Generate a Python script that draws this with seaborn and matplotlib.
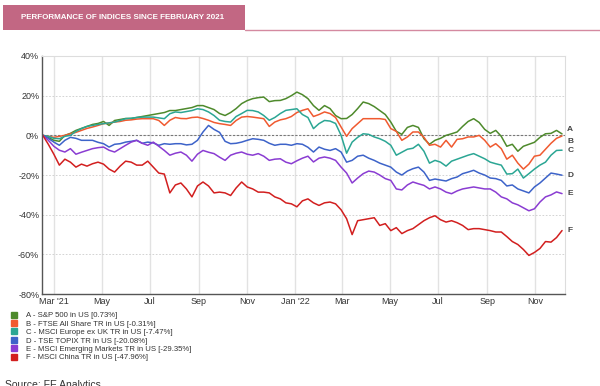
import pandas as pd
import matplotlib.pyplot as plt
import matplotlib.dates as mdates
from matplotlib.lines import Line2D
from matplotlib.patches import Rectangle
import seaborn as sns

# weekly readings, % change since mid-February 2021
dates = pd.date_range("2021-02-15", periods=95, freq="7D")

sp500 = [0, -1, -2.5, -3, 0, 1, 2.5, 3.5, 4.5, 5.5, 6, 7, 5, 7.5, 8, 8.5, 8.5, 9, 9.5, 10,
         10.5, 11, 11.5, 12.5, 12.5, 13, 13.5, 14, 15, 15, 14, 13, 11, 10, 11.5, 13.5, 16, 17.5, 18.5, 19,
         19.3, 17, 17.5, 17.6, 18.5, 20, 21.8, 20.5, 18.5, 15, 12.6, 15, 13.5, 10, 8.4, 8.5, 10.5, 13.5, 16.8, 16,
         14.5, 12.5, 10.5, 6.7, 2, 0.5, 4, 5, 4, -1.7, -4.5, -2.5, -1.5, 0, 0.8, 1.7, 4.5, 7, 8.4, 6.5,
         3, 1, 2.5, -0.5, -5.5, -4.5, -8, -5.5, -4.5, -3.5, -1, 0.8, 1, 2.5, 0.73]
ftse = [0, -0.5, -1, -0.5, 0, 0.8, 1.5, 2.5, 3.5, 4.2, 5, 5.9, 6.2, 6.7, 7, 7.6, 7.8, 8.2, 8.4, 8.4,
        8.4, 7.5, 5, 7.6, 9, 8.5, 8.4, 9, 9.2, 8.5, 7.6, 6.5, 5.9, 5.5, 5, 7.5, 9.2, 9.5, 9.2, 8.8,
        8.4, 4.5, 6.7, 7.8, 8.4, 9.5, 11.5, 12.6, 13.4, 9.5, 10.5, 11.8, 11, 9, 4.2, -0.5, 3.4, 5.9, 8.4, 8.4,
        8.4, 8.4, 8, 3.4, 2, -2.5, -0.8, 1.7, 1.7, -1, -5, -4.5, -5.9, -2.5, -5.9, -2, -1.7, -0.8, -0.8, 0,
        -2.5, -5.9, -4.2, -6.7, -12, -10, -14, -17, -14.5, -10.5, -10, -7, -4, -1.5, -0.31]
eu_ex_uk = [0, -0.5, -1.5, -1.7, -0.5, 0, 2, 3.4, 4.5, 5, 5.5, 5.9, 6.3, 6.7, 7.5, 8.4, 8.6, 9, 9.2, 9.2,
            9.2, 8.8, 8.4, 10.9, 11.8, 11.5, 12, 12.5, 13.4, 13, 11.8, 10, 7.6, 7, 6.7, 9.5, 11, 12.6, 12.5, 11.8,
            10, 7.6, 9, 11, 12.6, 13, 13.4, 10.5, 9, 3.4, 5.9, 7.5, 7.2, 6, 0, -9, -3.4, -1, 0.8, 0.5,
            -0.8, -1.7, -3, -5, -10, -8.5, -7, -6.5, -4.5, -8, -14, -12.6, -13.5, -15.5, -13, -12, -11, -10, -9.2, -10.5,
            -11.8, -13.5, -14.3, -15, -19.5, -19.3, -17, -21.5, -19.3, -17, -15, -13.5, -10, -7.6, -7.47]
topix = [0, -1.5, -3.4, -5, -2.5, -1, -1.5, -2.5, -2.5, -2.5, -3.5, -4.2, -5.9, -4.5, -4.2, -3.4, -3, -2.5, -4, -3.4,
         -3.8, -5, -4.2, -4.5, -4.2, -4.2, -4.8, -4.5, -2.5, 1.7, 5, 3, 1.5, -3, -4.2, -4, -3.4, -2.5, -1.7, -2,
         -2.5, -4, -5, -4.5, -4.5, -5, -4.2, -4.5, -6, -8.4, -5.9, -7, -7.6, -6.7, -8.4, -13.5, -12.6, -10.5, -10, -11.5,
         -12.6, -14, -15, -16, -18.5, -20, -18, -16.8, -16, -18.5, -22.7, -22, -22.5, -23, -21.8, -21, -19.3, -18.5, -17.6, -19,
         -20, -21.5, -21.8, -22.7, -25.5, -25, -27, -28, -29, -26, -24, -21.5, -19, -19.5, -20.08]
em = [0, -2.5, -5.5, -7.5, -8.4, -6.7, -9.5, -8.5, -7.6, -6.7, -6.2, -5.9, -7.5, -8.4, -6.7, -5, -3.4, -2.5, -4, -5,
      -3.4, -5.5, -7.6, -10, -9, -8.4, -10, -13, -9.5, -7.6, -8.5, -9.2, -11, -12.6, -10, -9, -8.4, -9.5, -10, -9.2,
      -10.5, -12.6, -12, -11.8, -13.5, -14.3, -12.8, -11.5, -10.5, -13.4, -11.5, -10.9, -11.5, -12.6, -16, -19, -24, -21.5, -19.3, -18,
      -18.5, -20, -21.8, -22.7, -27, -27.5, -25, -23.5, -24.4, -25.2, -27, -26, -27, -28.6, -29.4, -28, -27, -26.5, -26, -26.5,
      -27, -27, -28.6, -31, -32, -34, -35, -36.5, -38, -37, -33.6, -31, -30, -28.5, -29.35]
china = [0, -4.5, -9.5, -15, -12, -13.5, -16, -14.5, -15.5, -14.3, -13.5, -14.5, -17, -18.5, -15.5, -13, -13.5, -15, -15, -13,
         -16, -19, -19.5, -29, -25, -24, -27, -31, -25.5, -23.5, -25.5, -29, -28.6, -29, -30.3, -26.5, -23.5, -26, -27, -28.6,
         -28.6, -29, -31, -32, -34, -34.5, -36, -33, -32, -34, -35.3, -34, -33.6, -34.5, -37.5, -42, -50, -43, -42.5, -42,
         -41.5, -45.4, -44.5, -48, -46.5, -49.5, -48, -47, -45, -43, -41.5, -40.5, -42.5, -43.7, -43, -44, -45.4, -47.5, -47, -47,
         -47.5, -48, -48.7, -48.7, -51, -53.5, -55, -57.5, -60.5, -59, -57, -53.5, -53.8, -51.5, -47.96]

letters = ["A", "B", "C", "D", "E", "F"]
names = ["S&P 500 in US [0.73%]", "FTSE All Share TR in US [-0.31%]", "MSCI Europe ex UK TR in US [-7.47%]",
         "TSE TOPIX TR in US [-20.08%]", "MSCI Emerging Markets TR in US [-29.35%]", "MSCI China TR in US [-47.96%]"]
colors = ["#4e8a2c", "#f05a30", "#2ba694", "#3d63c9", "#8a3cd2", "#d21f1f"]
label_nudge = [2.2, -2.8, 0, 0, 0, 0]

series = [sp500, ftse, eu_ex_uk, topix, em, china]
df = pd.concat([pd.DataFrame({"date": dates, "pct": s, "index": l}) for s, l in zip(series, letters)])

sns.set_style("white")
plt.rcParams["font.family"] = ["Liberation Sans", "DejaVu Sans"]

fig = plt.figure(figsize=(6, 3.86), dpi=100)
ax = fig.add_axes([0.07, 0.238, 0.872, 0.617])

sns.lineplot(data=df, x="date", y="pct", hue="index", palette=colors, linewidth=1.1,
             legend=False, ax=ax)

ax.set_xlim(pd.Timestamp("2021-02-14"), pd.Timestamp("2022-12-09"))
ax.set_ylim(-80, 40)
ax.set_yticks(range(-80, 41, 20))
ax.yaxis.set_major_formatter(plt.FuncFormatter(lambda v, p: f"{v:.0f}%"))
ax.xaxis.set_major_locator(mdates.MonthLocator(bymonth=[1, 3, 5, 7, 9, 11]))


def month_label(v, p):
    d = mdates.num2date(v)
    if d.month == 1 or (d.month == 3 and d.year == 2021):
        return d.strftime("%b '%y")
    return d.strftime("%b")


ax.xaxis.set_major_formatter(plt.FuncFormatter(month_label))
ax.set_xlabel("")
ax.set_ylabel("")
ax.tick_params(length=0, labelsize=6.5, labelcolor="#333333", pad=2)

ax.grid(axis="x", color="#e2e2e2", linewidth=1)
ax.grid(axis="y", color="#cccccc", linewidth=0.6, linestyle=(0, (2, 2)))
ax.axhline(0, color="#777777", linewidth=0.8, linestyle=(0, (2, 1.5)), zorder=1)

for side in ["top", "right"]:
    ax.spines[side].set_color("#dddddd")
for side in ["left", "bottom"]:
    ax.spines[side].set_color("#555555")
    ax.spines[side].set_linewidth(1)

# end-of-line letters
for s, l, n in zip(series, letters, label_nudge):
    ax.annotate(l, xy=(1, s[-1] + n), xycoords=("axes fraction", "data"), xytext=(1.5, 0),
                textcoords="offset points", fontsize=6, fontweight="bold", color="#444444", va="center")

handles = [Line2D([], [], marker="s", linestyle="", markersize=4.2, color=c) for c in colors]
fig.legend(handles, [f"{l} - {n}" for l, n in zip(letters, names)], loc="upper left",
           bbox_to_anchor=(0.016, 1 - 312 / 386), frameon=False, fontsize=5.6, handletextpad=0.9,
           labelspacing=0.12, borderaxespad=0, borderpad=0, handlelength=1.2, labelcolor="#333333")

# header bar
fig.patches.append(Rectangle((0.005, 1 - 30 / 386), 0.403, 25 / 386, transform=fig.transFigure,
                             facecolor="#c26783", edgecolor="none"))
fig.add_artist(Line2D([0.408, 1], [1 - 30 / 386] * 2, transform=fig.transFigure, color="#d48aa0",
                      linewidth=1))
fig.text(0.205, 1 - 17.5 / 386, "PERFORMANCE OF INDICES SINCE FEBRUARY 2021", fontsize=5.8,
         fontweight="bold", color="white", ha="center", va="center")

fig.text(0.008, 1 - 380 / 386, "Source: FE Analytics", fontsize=7.5, color="#333333", va="top")

fig.savefig("out.png", dpi=100)
